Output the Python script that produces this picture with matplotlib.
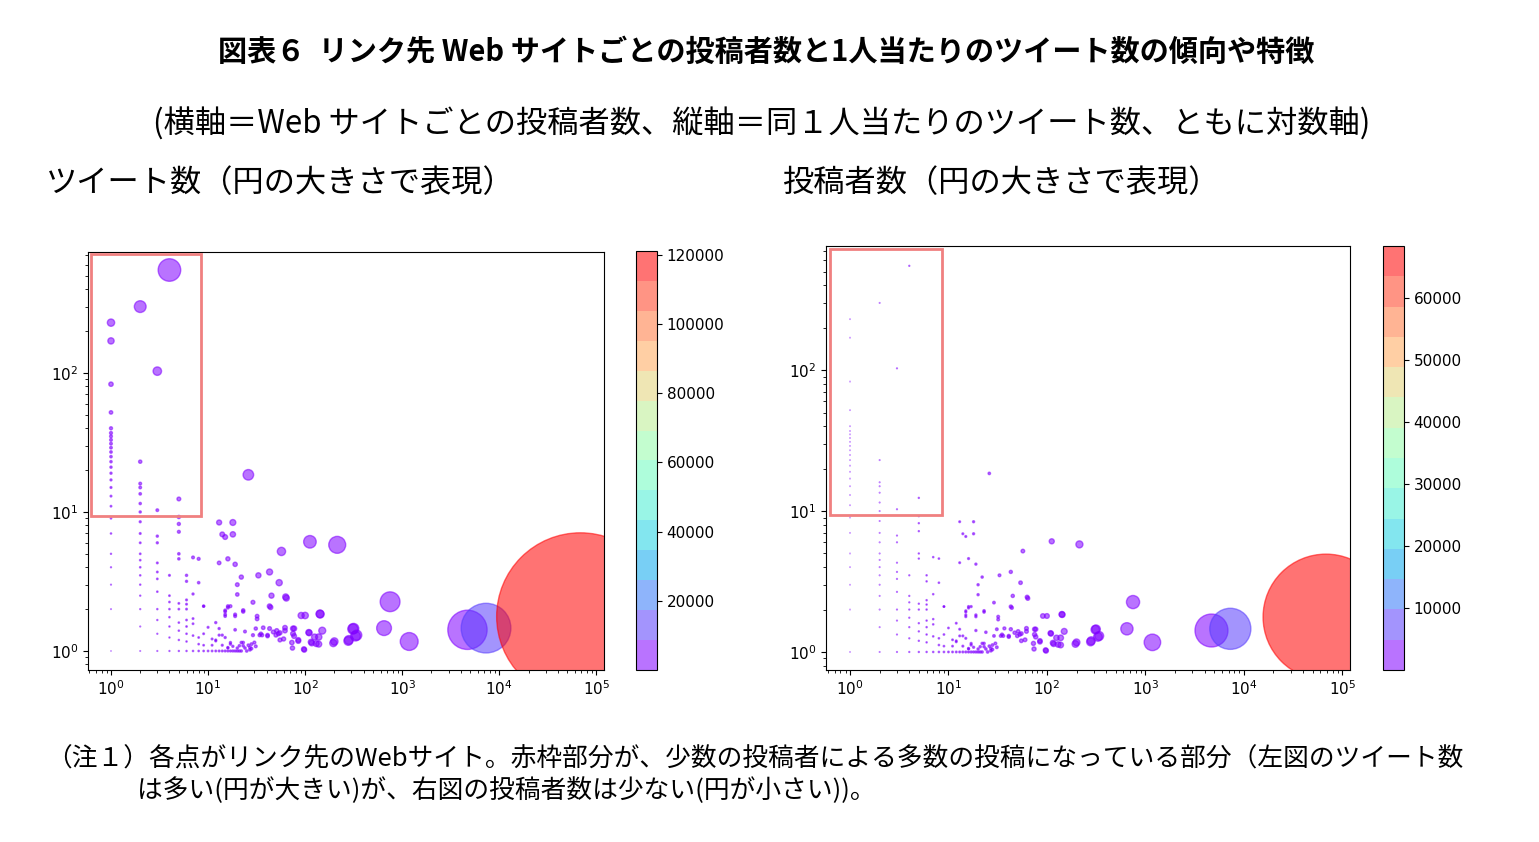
import numpy as np
import matplotlib.pyplot as plt
from matplotlib.patches import Rectangle

plt.rcParams['font.family'] = ['DejaVu Sans', 'Noto Sans CJK JP']

# posters per website (x) and tweets per poster (y)
col1_y = [230, 170, 83, 52, 40, 37, 35, 33, 31, 29, 27, 25, 23, 21, 19, 17, 15, 13, 11, 9, 7, 5, 4, 3, 2, 1]
col2_y = [300, 23, 16, 15, 13.5, 11.5, 10, 8.5, 7, 6, 5, 4.5, 4, 3.5, 3, 2.5, 2, 1.5, 1]
col3_y = [103, 10.3, 6.7, 6, 4.3, 3.7, 3.3, 2.67, 2, 1.67, 1.33, 1]
col4_y = [550, 3.5, 2.5, 2.25, 2, 1.75, 1.5, 1.25, 1]
col5_y = [12.4, 9.2, 8.2, 7.2, 5, 4.6, 2.2, 2, 1.6, 1.4, 1.2, 1]
col6_y = [3.5, 3.17, 2.33, 2.17, 2, 1.67, 1.5, 1.33, 1.17, 1]
col7_y = [4.71, 2.57, 1.71, 1.57, 1.29, 1]
col8_y = [4.6, 3.1, 1.25, 1.12, 1]
col9_y = [2.1, 1.33, 1.1, 1]

other_x = [10, 12, 13, 13, 13, 14, 15, 18, 18, 16, 19, 22, 20, 20, 15, 15, 16, 19, 23, 26, 29, 33, 43, 54,
           45, 43, 63, 32, 32, 57, 112, 214, 91, 100, 142, 150, 109, 125, 130, 115, 200, 282, 316, 340,
           75, 75, 62, 51, 55, 74, 97, 85, 43, 37, 31, 29, 34, 35, 41, 47, 53, 30, 31, 24, 23, 22, 21,
           20, 24, 23, 19, 14, 16, 17, 12, 13, 15, 11, 10, 11, 12, 13, 14, 15, 16, 17, 18, 19, 20, 21,
           22, 25, 27, 28, 310, 330, 278, 195, 143, 138, 138, 110, 117, 98, 650, 750, 1180, 4700,
           7300, 68400, 16, 17, 15, 15, 19, 23, 77, 77, 85, 73, 50, 55, 60, 62, 36, 41, 26, 28, 27,
           18, 17, 16, 12, 11, 14, 9, 44, 64]
other_y = [1.48, 1.6, 8.4, 4.3, 1.45, 6.9, 6.6, 8.4, 6.9, 4.6, 4.2, 3.4, 3.0, 2.55, 1.96, 1.83, 2.1,
           1.83, 1.96, 18.5, 2.24, 3.5, 3.7, 3.1, 2.5, 2.1, 2.45, 1.78, 1.7, 5.2, 6.1, 5.8, 1.8, 1.8,
           1.85, 1.4, 1.36, 1.26, 1.13, 1.16, 1.17, 1.2, 1.45, 1.3, 1.45, 1.33, 1.47, 1.4, 1.2, 1.05,
           1.03, 1.2, 1.45, 1.47, 1.45, 1.3, 1.3, 1.33, 1.3, 1.37, 1.33, 1.15, 1.08, 1.05, 1.09, 1.15,
           1.09, 1.05, 1.38, 1.15, 1.42, 1.1, 1.05, 1.12, 1.2, 1.3, 1.25, 1.1, 1.0, 1.0, 1.0, 1.0,
           1.0, 1.0, 1.0, 1.0, 1.0, 1.0, 1.0, 1.0, 1.0, 1.0, 1.02, 1.04, 1.44, 1.28, 1.18, 1.14, 1.84,
           1.26, 1.12, 1.35, 1.14, 1.02, 1.46, 2.26, 1.17, 1.42, 1.46, 1.77, 2.05, 2.1, 1.92, 1.78,
           1.78, 1.92, 1.45, 1.28, 1.18, 1.15, 1.3, 1.35, 1.22, 1.4, 1.3, 1.28, 1.1, 1.12, 1.06, 1.08,
           1.15, 1.06, 1.18, 1.22, 1.3, 2.1, 2.06, 2.4]

posters = []
per_user = []
for n, ys in enumerate([col1_y, col2_y, col3_y, col4_y, col5_y, col6_y, col7_y, col8_y, col9_y], start=1):
    posters += [n] * len(ys)
    per_user += ys
posters = np.array(posters + other_x, dtype=float)
per_user = np.array(per_user + other_y, dtype=float)
tweets = posters * per_user

fig = plt.figure(figsize=(15.39, 8.42), dpi=100)
jp = 'Noto Sans CJK JP'
fig.text(0.498, 0.938, '図表６  リンク先 Web サイトごとの投稿者数と1人当たりのツイート数の傾向や特徴',
         ha='center', va='center', fontsize=21, fontweight='bold', family=jp)
fig.text(0.495, 0.852, '(横軸＝Web サイトごとの投稿者数、縦軸＝同１人当たりのツイート数、ともに対数軸)',
         ha='center', va='center', fontsize=22.5, family=jp)
fig.text(0.03, 0.783, 'ツイート数（円の大きさで表現）', ha='left', va='center', fontsize=22.5, family=jp)
fig.text(0.508, 0.783, '投稿者数（円の大きさで表現）', ha='left', va='center', fontsize=22.5, family=jp)
fig.text(0.03, 0.098, '（注１）各点がリンク先のWebサイト。赤枠部分が、少数の投稿者による多数の投稿になっている部分（左図のツイート数',
         ha='left', va='center', fontsize=18.5, family=jp)
fig.text(0.089, 0.061, 'は多い(円が大きい)が、右図の投稿者数は少ない(円が小さい))。',
         ha='left', va='center', fontsize=18.5, family=jp)

panels = [
    ([0.0572, 0.2043, 0.3353, 0.4964], [0.4133, 0.2043, 0.0136, 0.4976], tweets, (0.58, 1.2e5), (0.73, 741),
     [20000, 40000, 60000, 80000, 100000, 120000]),
    ([0.5367, 0.2043, 0.3405, 0.5035], [0.8986, 0.2043, 0.0136, 0.5035], posters, (0.57, 1.2e5), (0.745, 760),
     [10000, 20000, 30000, 40000, 50000, 60000]),
]
for ax_pos, cb_pos, value, xl, yl, cticks in panels:
    ax = fig.add_axes(ax_pos)
    sc = ax.scatter(posters, per_user, s=value * 0.12, c=value, cmap=plt.get_cmap('rainbow', 14),
                    vmin=0, vmax=value.max(), alpha=0.55, linewidths=1)
    ax.set_xscale('log')
    ax.set_yscale('log')
    ax.set_xlim(*xl)
    ax.set_ylim(*yl)
    ax.set_xticks([1, 10, 100, 1000, 10000, 100000])
    ax.set_yticks([1, 10, 100])
    ax.tick_params(labelsize=11)
    ax.add_patch(Rectangle((0.62, 9.3), 8.5 - 0.62, 720 - 9.3, fill=False,
                           edgecolor='#f08080', linewidth=2, zorder=5))
    cax = fig.add_axes(cb_pos)
    cb = fig.colorbar(sc, cax=cax, ticks=cticks)
    cb.ax.tick_params(labelsize=11)
    cb.outline.set_linewidth(0.8)

fig.savefig('out.png', dpi=100)
